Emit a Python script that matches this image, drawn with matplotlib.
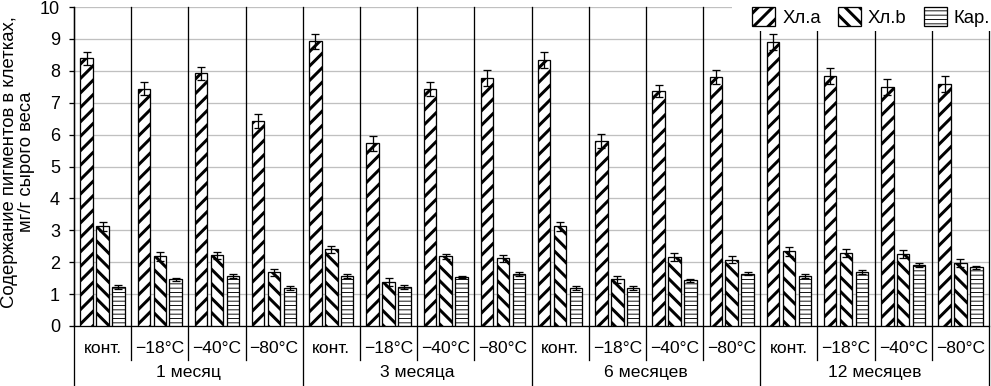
import matplotlib
matplotlib.use("Agg")
import matplotlib.pyplot as plt
from matplotlib.patches import Patch, Rectangle
import numpy as np

plt.rcParams['font.family'] = ['Liberation Sans', 'DejaVu Sans']

groups = ["1 месяц", "3 месяца", "6 месяцев", "12 месяцев"]
temps = ["конт.", "\u221218°C", "\u221240°C", "\u221280°C"]

# values per category (group x temperature)
chl_a = [8.39, 7.44, 7.92, 6.44,
         8.92, 5.73, 7.42, 7.76,
         8.33, 5.79, 7.37, 7.80,
         8.89, 7.83, 7.48, 7.58]
chl_a_err = [0.21, 0.21, 0.21, 0.22,
             0.24, 0.24, 0.22, 0.25,
             0.25, 0.22, 0.20, 0.21,
             0.25, 0.25, 0.25, 0.25]
chl_b = [3.12, 2.18, 2.22, 1.68,
         2.40, 1.37, 2.18, 2.12,
         3.12, 1.46, 2.16, 2.07,
         2.34, 2.28, 2.25, 1.97]
chl_b_err = [0.13, 0.13, 0.11, 0.12,
             0.12, 0.12, 0.09, 0.12,
             0.13, 0.10, 0.12, 0.11,
             0.13, 0.12, 0.12, 0.12]
car = [1.22, 1.47, 1.56, 1.19,
       1.56, 1.22, 1.53, 1.62,
       1.19, 1.18, 1.43, 1.64,
       1.56, 1.68, 1.90, 1.84]
car_err = [0.06, 0.05, 0.06, 0.05,
           0.06, 0.05, 0.03, 0.06,
           0.05, 0.06, 0.05, 0.05,
           0.06, 0.06, 0.06, 0.05]
series_names = ["Хл.a", "Хл.b", "Кар."]

DPI = 130
W, H = 991, 386
def pt(px):
    return px * 72 / DPI

fig = plt.figure(figsize=(W / DPI, H / DPI), dpi=DPI)
ax = fig.add_axes([74 / W, 60 / H, (989 - 74) / W, (326 - 7) / H])

x = np.arange(len(chl_a))
bw = 0.218
off = 0.278
styles = [("///", pt(3.0)), ("\\\\\\", pt(3.0)), ("-----", pt(0.9))]
data = [(chl_a, chl_a_err), (chl_b, chl_b_err), (car, car_err)]

handles = []
for k, ((vals, errs), (hatch, hlw)) in enumerate(zip(data, styles)):
    plt.rcParams['hatch.linewidth'] = hlw
    bars = ax.bar(x + (k - 1) * off, vals, bw, color='white', edgecolor='black',
                  linewidth=pt(1.3), hatch=hatch, zorder=3)
    for b in bars:
        if hasattr(b, "set_hatch_linewidth"):
            b.set_hatch_linewidth(hlw)
    ax.errorbar(x + (k - 1) * off, vals, yerr=errs, fmt='none', ecolor='black',
                elinewidth=pt(1.3), capsize=pt(4), capthick=pt(1.3), zorder=4)
    handles.append(Patch(facecolor='white', edgecolor='black', linewidth=pt(1.3),
                         hatch=hatch))

ax.set_xlim(-0.5, len(x) - 0.5)
ax.set_ylim(0, 10)
ax.set_yticks(range(0, 11))
ax.set_xticks([])
ax.yaxis.grid(True, color='#c0c0c0', linewidth=pt(1.3))
ax.set_axisbelow(True)
for s in ['top', 'right']:
    ax.spines[s].set_visible(False)
for s in ['left', 'bottom']:
    ax.spines[s].set_linewidth(pt(1.3))
ax.tick_params(axis='y', direction='out', length=pt(5), width=pt(1.3), pad=pt(9),
               labelsize=pt(18))

# category separators, extending below the axis
tr = ax.get_xaxis_transform()
for b in range(len(x) + 1):
    bottom = -0.188 if b % 4 == 0 else -0.107
    ax.plot([b - 0.5, b - 0.5], [1, bottom], color='black', lw=pt(1.3),
            transform=tr, clip_on=False, zorder=2)

for i in x:
    ax.text(i, -0.069, temps[i % 4], transform=tr, ha='center', va='center',
            fontsize=pt(17.5))
for g, name in enumerate(groups):
    ax.text(g * 4 + 1.5, -0.147, name, transform=tr, ha='center', va='center',
            fontsize=pt(17.5))

fig.text(18 / W, 1 - 162 / H, "Содержание пигментов в клетках,\nмг/г сырого веса",
         rotation=90, ha='center', va='center', multialignment='center',
         fontsize=pt(18.5), linespacing=1.05)

# white block behind the legend
fig.patches.append(Rectangle((732 / W, 1 - 31 / H), (W - 732) / W, 31 / H,
                             transform=fig.transFigure, facecolor='white',
                             edgecolor='none', zorder=5))

leg = fig.legend(handles, series_names, loc='center right',
                 bbox_to_anchor=(990 / W, 1 - 17 / H), ncol=3, frameon=False,
                 fontsize=pt(18.5), handlelength=23 / 18.5, handleheight=22 / 18.5,
                 handletextpad=7 / 18.5, columnspacing=17 / 18.5,
                 borderpad=0, borderaxespad=0)
for p, (hatch, hlw) in zip(leg.get_patches(), styles):
    if hasattr(p, "set_hatch_linewidth"):
        p.set_hatch_linewidth(hlw)
leg.set_zorder(6)

fig.savefig("out.png", dpi=DPI)
